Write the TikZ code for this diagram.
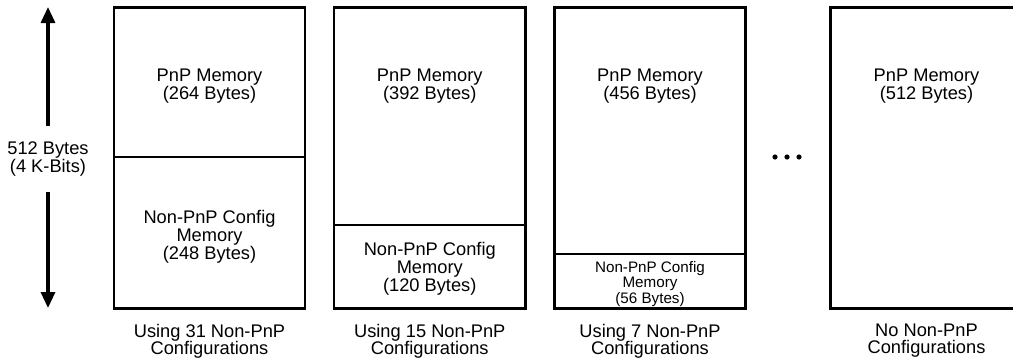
\documentclass[tikz,border=0pt]{standalone}
\usepackage{fontspec}
\setmainfont{Liberation Sans}
\usetikzlibrary{arrows.meta}

\tikzset{
  membox/.style={line width=2.2pt},
  memsplit/.style={line width=1pt},
  memtext/.style={align=center,inner sep=0pt,font=\fontsize{13.7}{13.4}\selectfont},
  smalltext/.style={align=center,inner sep=0pt,font=\fontsize{11.4}{11.9}\selectfont},
  captext/.style={align=center,inner sep=0pt,font=\fontsize{13.7}{12.8}\selectfont},
  sizearrow/.style={line width=2.4pt,-{Triangle[length=12pt,width=10.5pt]}}
}

\begin{document}
\begin{tikzpicture}[x=0.75pt,y=0.75pt,yscale=-1,xscale=1]
        \useasboundingbox (0,0) rectangle (1013,362);
        \clip (0,0) rectangle (1013,362);

        %Straight Lines [id:size]
        \node (size) [memtext,minimum height=49.5pt] at (48,159) {512 Bytes\\(4 K-Bits)};
        \coordinate (sizetop) at (48,7);
        \coordinate (sizebot) at (48,308);
        \draw[sizearrow] (size.north) -- (sizetop);
        \draw[sizearrow] (size.south) -- (sizebot);

        %Shape: Rectangle [id:boxa]
        \draw[membox] (114,7.5) rectangle (305,308.5);
        \draw[memsplit] (114,157) -- (305,157);
        \node (pnpa) [memtext] at (209.5,86) {PnP Memory\\(264 Bytes)};
        \node (cfga) [memtext] at (209.5,237) {Non-PnP Config\\Memory\\(248 Bytes)};
        \node (capa) [captext] at (209.5,341) {Using 31 Non-PnP\\Configurations};

        %Shape: Rectangle [id:boxb]
        \draw[membox] (334,7.5) rectangle (525.5,308.5);
        \draw[memsplit] (334,225) -- (525.5,225);
        \node (pnpb) [memtext] at (429.75,86) {PnP Memory\\(392 Bytes)};
        \node (cfgb) [memtext] at (429.75,269) {Non-PnP Config\\Memory\\(120 Bytes)};
        \node (capb) [captext] at (429.75,341) {Using 15 Non-PnP\\Configurations};

        %Shape: Rectangle [id:boxc]
        \draw[membox] (554.5,7.5) rectangle (745.5,308.5);
        \draw[memsplit] (554.5,254) -- (745.5,254);
        \node (pnpc) [memtext] at (650,86) {PnP Memory\\(456 Bytes)};
        \node (cfgc) [smalltext] at (650,284) {Non-PnP Config\\Memory\\(56 Bytes)};
        \node (capc) [captext] at (650,341) {Using 7 Non-PnP\\Configurations};

        %Shape: Circle [id:dots]
        \fill (775,157) circle (2.6);
        \fill (787,157) circle (2.6);
        \fill (799,157) circle (2.6);

        %Shape: Rectangle [id:boxd]
        \draw[membox] (830.5,7.5) rectangle (1022.5,308.5);
        \node (pnpd) [memtext] at (926.5,86) {PnP Memory\\(512 Bytes)};
        \node (capd) [captext] at (926.5,341) {No Non-PnP\\Configurations};
    \end{tikzpicture}
\end{document}
